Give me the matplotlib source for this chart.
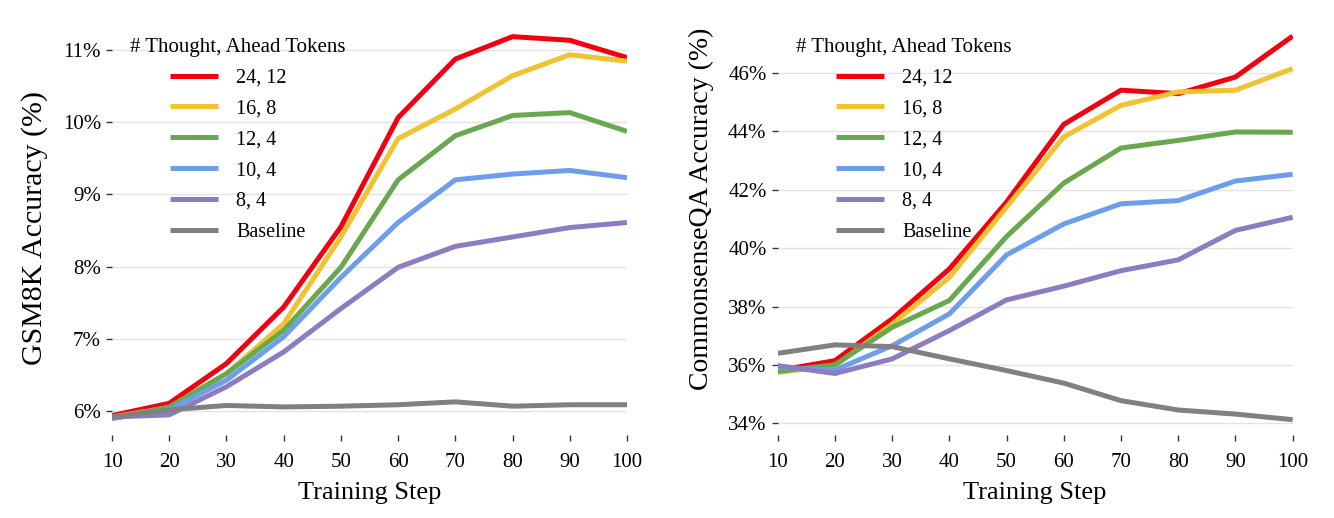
import matplotlib
matplotlib.use("Agg")
import matplotlib.pyplot as plt
from matplotlib.ticker import FuncFormatter

plt.rcParams['font.family'] = ['Liberation Serif', 'DejaVu Serif']

steps = [10, 20, 30, 40, 50, 60, 70, 80, 90, 100]
labels = ["24, 12", "16, 8", "12, 4", "10, 4", "8, 4", "Baseline"]
colors = ["#f00010", "#f1c232", "#6aa84f", "#6d9eeb", "#8e7cc3", "#808080"]

# GSM8K accuracy (%)
gsm_24_12 = [5.94, 6.11, 6.66, 7.44, 8.55, 10.06, 10.87, 11.18, 11.13, 10.89]
gsm_16_8 = [5.92, 6.05, 6.52, 7.21, 8.41, 9.77, 10.18, 10.64, 10.93, 10.84]
gsm_12_4 = [5.90, 6.06, 6.52, 7.12, 7.99, 9.20, 9.81, 10.09, 10.13, 9.87]
gsm_10_4 = [5.90, 6.02, 6.43, 7.03, 7.85, 8.61, 9.20, 9.28, 9.33, 9.23]
gsm_8_4 = [5.92, 5.95, 6.34, 6.82, 7.42, 7.99, 8.28, 8.41, 8.54, 8.61]
gsm_base = [5.92, 6.02, 6.08, 6.06, 6.07, 6.09, 6.13, 6.07, 6.09, 6.09]

# CommonsenseQA accuracy (%)
csqa_24_12 = [35.81, 36.15, 37.58, 39.29, 41.58, 44.24, 45.41, 45.29, 45.86, 47.26]
csqa_16_8 = [35.75, 35.98, 37.40, 39.00, 41.41, 43.81, 44.89, 45.35, 45.41, 46.15]
csqa_12_4 = [35.78, 36.01, 37.29, 38.21, 40.40, 42.23, 43.43, 43.69, 43.98, 43.97]
csqa_10_4 = [35.92, 35.83, 36.66, 37.75, 39.77, 40.83, 41.52, 41.63, 42.30, 42.53]
csqa_8_4 = [35.98, 35.71, 36.21, 37.18, 38.23, 38.70, 39.23, 39.60, 40.61, 41.06]
csqa_base = [36.40, 36.69, 36.63, 36.21, 35.81, 35.38, 34.78, 34.46, 34.32, 34.13]

gsm = [gsm_24_12, gsm_16_8, gsm_12_4, gsm_10_4, gsm_8_4, gsm_base]
csqa = [csqa_24_12, csqa_16_8, csqa_12_4, csqa_10_4, csqa_8_4, csqa_base]

fig = plt.figure(figsize=(13.34, 5.18), dpi=100)
ax1 = fig.add_axes([0.084, 0.16, 0.386, 0.786])
ax2 = fig.add_axes([0.583, 0.16, 0.386, 0.786])

def style(ax, series, ylabel, ylim, yticks, ysize, ylab_y):
    for s, lab, c in zip(series, labels, colors):
        ax.plot(steps, s, color=c, lw=3.6, label=lab, solid_capstyle='butt')
    ax.set_xlim(10, 100)
    ax.set_ylim(*ylim)
    ax.set_xticks(steps)
    ax.set_yticks(yticks)
    ax.yaxis.set_major_formatter(FuncFormatter(lambda v, p: "%d%%" % round(v)))
    ax.grid(axis='y', color='#e3e3e3', lw=1)
    ax.set_axisbelow(True)
    for sp in ax.spines.values():
        sp.set_visible(False)
    ax.tick_params(axis='both', labelsize=15, length=4, color='#333333', width=1)
    ax.tick_params(axis='x', pad=9)
    ax.tick_params(axis='y', pad=4)
    ax.set_xlabel("Training Step", fontsize=19, labelpad=7)
    ax.set_ylabel(ylabel, fontsize=ysize)
    ax.yaxis.set_label_coords(-0.124, ylab_y)
    ax.legend(title="# Thought, Ahead Tokens", loc='upper left',
              bbox_to_anchor=(0.0, 1.02), frameon=False, fontsize=14.5,
              title_fontsize=15, handlelength=2.4, handletextpad=0.9,
              labelspacing=0.58)

style(ax1, gsm, "GSM8K Accuracy (%)", (5.67, 11.3), [6, 7, 8, 9, 10, 11], 21.5, 0.509)
style(ax2, csqa, "CommonsenseQA Accuracy (%)", (33.6, 47.54),
      [34, 36, 38, 40, 42, 44, 46], 20, 0.555)

fig.savefig("out.png", dpi=100)
